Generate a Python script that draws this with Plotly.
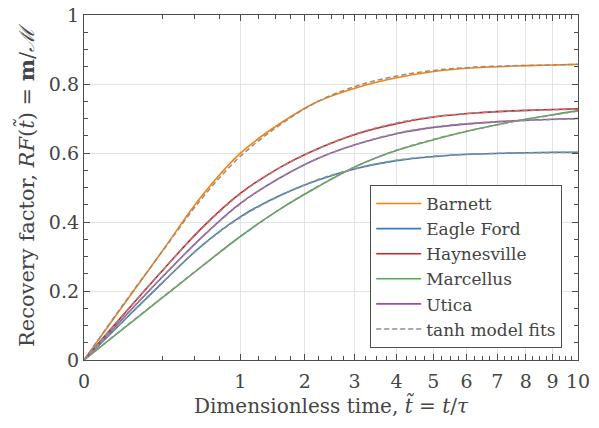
import numpy as np
import plotly.graph_objects as go

# dimensionless time samples (evenly spaced on the square-root time axis)
t_vals = [0, 0.0625, 0.25, 0.5625, 1, 1.5625, 2.25, 3.0625, 4, 5.0625, 6.25, 7.5625, 9, 10]

plays = ["Barnett", "Eagle Ford", "Haynesville", "Marcellus", "Utica"]
colors = ["#ff7f00", "#377eb8", "#e41a1c", "#4daf4a", "#984ea3"]

barnett     = [0, 0.158, 0.315, 0.473, 0.599, 0.684, 0.750, 0.790, 0.818, 0.837, 0.847, 0.852, 0.855, 0.857]
eagle_ford  = [0, 0.112, 0.223, 0.330, 0.415, 0.476, 0.522, 0.556, 0.578, 0.590, 0.597, 0.600, 0.602, 0.602]
haynesville = [0, 0.130, 0.258, 0.381, 0.483, 0.557, 0.613, 0.656, 0.685, 0.705, 0.716, 0.722, 0.726, 0.728]
marcellus   = [0, 0.090, 0.180, 0.270, 0.358, 0.436, 0.503, 0.563, 0.607, 0.640, 0.668, 0.692, 0.711, 0.722]
utica       = [0, 0.121, 0.240, 0.354, 0.454, 0.527, 0.585, 0.626, 0.656, 0.675, 0.686, 0.693, 0.698, 0.700]

# tanh model fits
barnett_fit     = [0, 0.160, 0.314, 0.466, 0.590, 0.680, 0.750, 0.795, 0.823, 0.840, 0.849, 0.853, 0.855, 0.857]
eagle_ford_fit  = [0, 0.113, 0.224, 0.329, 0.413, 0.475, 0.523, 0.556, 0.579, 0.591, 0.597, 0.600, 0.601, 0.602]
haynesville_fit = [0, 0.131, 0.259, 0.379, 0.481, 0.556, 0.613, 0.657, 0.687, 0.706, 0.716, 0.722, 0.725, 0.727]
marcellus_fit   = [0, 0.091, 0.181, 0.270, 0.357, 0.436, 0.504, 0.563, 0.608, 0.641, 0.668, 0.691, 0.710, 0.722]
utica_fit       = [0, 0.122, 0.241, 0.353, 0.452, 0.527, 0.585, 0.626, 0.657, 0.676, 0.687, 0.693, 0.697, 0.699]

series = [barnett, eagle_ford, haynesville, marcellus, utica]
fits = [barnett_fit, eagle_ford_fit, haynesville_fit, marcellus_fit, utica_fit]

x_major = list(range(0, 11))
x_minor = [i * 0.25 for i in range(0, 41)]
y_major = [0, 0.2, 0.4, 0.6, 0.8, 1]
y_ticktext = ["0", "0.2", "0.4", "0.6", "0.8", "1"]
y_minor = [round(i * 0.05, 2) for i in range(0, 21)]

sq = lambda v: np.sqrt(np.asarray(v, dtype=float))  # square-root time axis

font_family = "DejaVu Serif"
txt = "#444444"
axis_col = "#4d4d4d"
grid_col = "#e3e3e3"

fig = go.Figure()
for name, col, ys in zip(plays, colors, series):
    fig.add_trace(go.Scatter(x=sq(t_vals), y=ys, mode="lines", name=name,
                             line=dict(color=col, width=1.6, shape="spline", smoothing=1.0)))
for i, ys in enumerate(fits):
    fig.add_trace(go.Scatter(x=sq(t_vals), y=ys, mode="lines", name="tanh model fits",
                             showlegend=(i == 0),
                             line=dict(color="#8f8f8f", width=1.5, dash="5px,3px",
                                       shape="spline", smoothing=1.0)))

fig.update_layout(
    width=599, height=428,
    margin=dict(l=84, r=21, t=15, b=68),
    paper_bgcolor="white", plot_bgcolor="white",
    font=dict(family=font_family, color=txt, size=19),
    showlegend=True,
    legend=dict(x=0.968, y=0.035, xanchor="right", yanchor="bottom",
                bgcolor="white", bordercolor=axis_col, borderwidth=1,
                font=dict(size=17, family=font_family, color=txt),
                itemwidth=45, tracegroupgap=0),
    xaxis=dict(range=[0, float(np.sqrt(10))], tickmode="array",
               tickvals=list(sq(x_major)), ticktext=[str(v) for v in x_major],
               ticks="inside", ticklen=6, tickcolor=axis_col, tickwidth=1,
               showline=True, linecolor=axis_col, linewidth=1.3, mirror="allticks",
               showgrid=True, gridcolor=grid_col, gridwidth=1, zeroline=False,
               automargin=False, ticklabeloverflow="allow", ticklabelstandoff=4,
               tickfont=dict(size=19, family=font_family),
               minor=dict(tickvals=list(sq(x_minor)), ticks="inside", ticklen=3.5,
                          tickcolor=axis_col, showgrid=False),
               title=dict(text="Dimensionless time, <i>t̃</i> = <i>t</i>/<i>τ</i>",
                          font=dict(size=20, family=font_family), standoff=4)),
    yaxis=dict(range=[0, 1], tickmode="array", tickvals=y_major, ticktext=y_ticktext,
               ticks="inside", ticklen=6, tickcolor=axis_col, tickwidth=1,
               showline=True, linecolor=axis_col, linewidth=1.3, mirror="allticks",
               showgrid=True, gridcolor=grid_col, gridwidth=1, zeroline=False,
               automargin=False, ticklabeloverflow="allow",
               tickfont=dict(size=19, family=font_family),
               minor=dict(tickvals=y_minor, ticks="inside", ticklen=3.5,
                          tickcolor=axis_col, showgrid=False),
               title=dict(text="Recovery factor, <i>RF</i>(<i>t̃</i>) = <b>m</b>/<i>ℳ</i>",
                          font=dict(size=21, family=font_family), standoff=8)),
)

fig.write_html("out.html", config={"displayModeBar": False},
               post_script="document.body.style.margin='0';")
